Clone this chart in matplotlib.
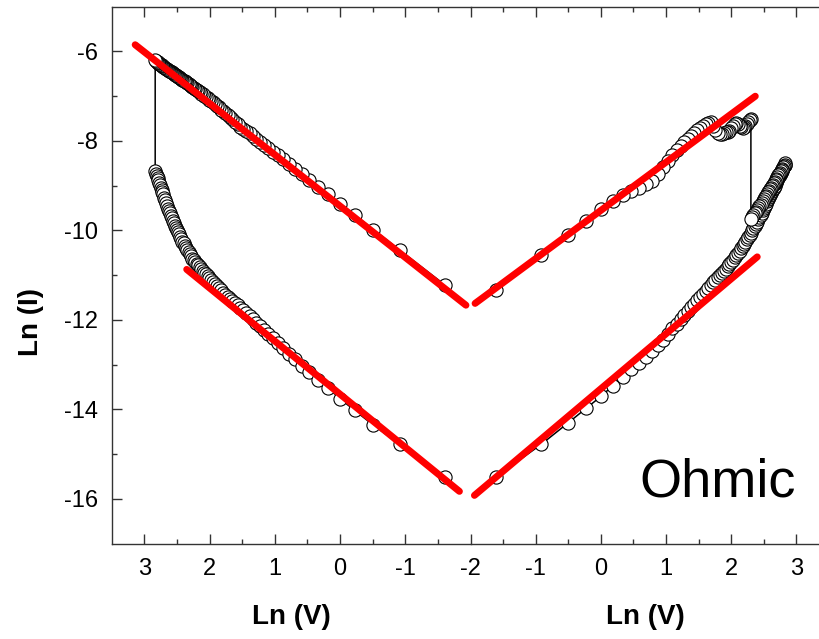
import numpy as np
import matplotlib
matplotlib.use('Agg')
import matplotlib.pyplot as plt
from matplotlib.ticker import FixedLocator

plt.rcParams['font.family'] = ['Liberation Sans', 'DejaVu Sans']
plt.rcParams['axes.unicode_minus'] = False

# sweep voltages (V), same steps on both polarities
sweep_v = [0.2, 0.4, 0.6, 0.8, 1.0, 1.2, 1.4, 1.6, 1.8, 2.0,
           2.2, 2.4, 2.6, 2.8, 3.0, 3.2, 3.4, 3.6, 3.8, 4.0,
           4.2, 4.4, 4.6, 4.8, 5.0, 5.2, 5.4, 5.6, 5.8, 6.0,
           6.2, 6.4, 6.6, 6.8, 7.0, 7.2, 7.4, 7.6, 7.8, 8.0,
           8.2, 8.4, 8.6, 8.8, 9.0, 9.2, 9.4, 9.6, 9.8, 10.0,
           10.2, 10.4, 10.6, 10.8, 11.0, 11.2, 11.4, 11.6, 11.8, 12.0,
           12.2, 12.4, 12.6, 12.8, 13.0, 13.2, 13.4, 13.6, 13.8, 14.0,
           14.2, 14.4, 14.6, 14.8, 15.0, 15.2, 15.4, 15.6, 15.8, 16.0,
           16.2, 16.4, 16.6, 16.8, 17.0]

# negative side: ln(I) of the LRS (upper) and HRS (lower) branches
neg_upper = [-11.22, -10.44, -9.98, -9.65, -9.40, -9.19, -9.02, -8.87, -8.74, -8.62,
             -8.51, -8.41, -8.32, -8.24, -8.16, -8.09, -8.02, -7.95, -7.89, -7.83,
             -7.78, -7.73, -7.68, -7.62, -7.57, -7.52, -7.47, -7.42, -7.38, -7.34,
             -7.30, -7.25, -7.22, -7.18, -7.14, -7.11, -7.08, -7.05, -7.02, -6.99,
             -6.96, -6.94, -6.91, -6.88, -6.86, -6.83, -6.81, -6.79, -6.77, -6.75,
             -6.73, -6.71, -6.69, -6.67, -6.65, -6.63, -6.61, -6.60, -6.58, -6.56,
             -6.55, -6.53, -6.52, -6.50, -6.49, -6.47, -6.46, -6.44, -6.43, -6.42,
             -6.40, -6.39, -6.37, -6.35, -6.34, -6.33, -6.31, -6.30, -6.28, -6.27,
             -6.25, -6.24, -6.23, -6.21, -6.20]
neg_lower = [-15.51, -14.78, -14.35, -14.02, -13.76, -13.52, -13.34, -13.17, -13.02, -12.88,
             -12.75, -12.63, -12.51, -12.41, -12.31, -12.22, -12.14, -12.06, -11.98, -11.91,
             -11.84, -11.78, -11.73, -11.67, -11.62, -11.57, -11.53, -11.48, -11.44, -11.40,
             -11.34, -11.29, -11.24, -11.19, -11.15, -11.10, -11.06, -11.02, -10.98, -10.94,
             -10.90, -10.86, -10.82, -10.78, -10.75, -10.71, -10.67, -10.63, -10.58, -10.53,
             -10.48, -10.43, -10.39, -10.34, -10.29, -10.25, -10.20, -10.15, -10.09, -10.04,
             -9.99, -9.94, -9.89, -9.84, -9.78, -9.73, -9.67, -9.62, -9.56, -9.51,
             -9.45, -9.39, -9.33, -9.27, -9.19, -9.14, -9.09, -9.04, -8.98, -8.93,
             -8.88, -8.83, -8.78, -8.73, -8.68]

# positive side: HRS forward sweep, HRS return (10 V .. 17 V), LRS after set (0.2 V .. 10 V)
pos_lower = [-15.51, -14.78, -14.31, -13.97, -13.71, -13.47, -13.28, -13.10, -12.96, -12.83,
             -12.70, -12.57, -12.44, -12.31, -12.19, -12.08, -11.98, -11.89, -11.80, -11.72,
             -11.64, -11.56, -11.49, -11.42, -11.35, -11.28, -11.22, -11.16, -11.10, -11.05,
             -11.00, -10.95, -10.90, -10.85, -10.80, -10.75, -10.70, -10.65, -10.60, -10.55,
             -10.50, -10.45, -10.40, -10.35, -10.30, -10.25, -10.20, -10.15, -10.10, -10.05,
             -10.00, -9.95, -9.90, -9.85, -9.80, -9.75, -9.70, -9.65, -9.60, -9.55,
             -9.50, -9.45, -9.40, -9.35, -9.30, -9.26, -9.21, -9.17, -9.12, -9.08,
             -9.04, -9.00, -8.95, -8.91, -8.87, -8.83, -8.79, -8.76, -8.72, -8.68,
             -8.64, -8.61, -8.57, -8.54, -8.50]
pos_lower_back = [-9.75, -9.71, -9.66, -9.62, -9.58, -9.54, -9.50, -9.46, -9.42, -9.38,
                  -9.34, -9.30, -9.26, -9.23, -9.19, -9.15, -9.12, -9.08, -9.05, -9.01,
                  -8.98, -8.94, -8.91, -8.87, -8.84, -8.80, -8.77, -8.74, -8.71, -8.68,
                  -8.65, -8.62, -8.59, -8.56, -8.53, -8.50]
pos_upper = [-11.33, -10.55, -10.10, -9.78, -9.53, -9.35, -9.21, -9.12, -9.04, -8.97,
             -8.90, -8.73, -8.58, -8.45, -8.32, -8.21, -8.11, -8.03, -7.95, -7.88,
             -7.82, -7.76, -7.71, -7.67, -7.63, -7.60, -7.58, -7.66, -7.76, -7.83,
             -7.85, -7.84, -7.82, -7.80, -7.79, -7.77, -7.72, -7.66, -7.62, -7.60,
             -7.62, -7.66, -7.69, -7.70, -7.69, -7.66, -7.62, -7.58, -7.54, -7.51]

# linear fits (Ohmic), start/end points in ln(V), ln(I)
fit_neg_upper_x, fit_neg_upper_y = [3.14, -1.93], [-5.85, -11.67]
fit_neg_lower_x, fit_neg_lower_y = [2.35, -1.83], [-10.87, -15.83]
fit_pos_upper_x, fit_pos_upper_y = [-1.93, 2.37], [-11.63, -7.00]
fit_pos_lower_x, fit_pos_lower_y = [-1.94, 2.40], [-15.92, -10.59]

left_ticks = [3, 2, 1, 0, -1]
right_ticks = [-2, -1, 0, 1, 2, 3]
y_ticks = [-16, -14, -12, -10, -8, -6]

lnv = np.log(sweep_v)
n_back = len(pos_lower_back)

x_left = np.concatenate([lnv, lnv[::-1]])
y_left = np.concatenate([neg_upper, neg_lower[::-1]])

x_right = np.concatenate([lnv, lnv[-n_back:-1][::-1], lnv[:len(pos_upper)][::-1]])
y_right = np.concatenate([pos_lower, pos_lower_back[:-1][::-1], pos_upper[::-1]])

fig = plt.figure(figsize=(8.2, 6.39), dpi=100)
ax_l = fig.add_axes([0.1366, 0.1491, 0.4372, 0.8404])
ax_r = fig.add_axes([0.5738, 0.1491, 0.4262, 0.8404])

mk = dict(color='black', lw=1.1, marker='o', ms=9.5, mfc='white', mec='black', mew=0.8)
ax_l.plot(x_left, y_left, **mk)
ax_r.plot(x_right, y_right, **mk)

red = dict(color='#ff0000', lw=5, solid_capstyle='round', zorder=5, clip_on=False)
ax_l.plot(fit_neg_upper_x, fit_neg_upper_y, **red)
ax_l.plot(fit_neg_lower_x, fit_neg_lower_y, **red)
ax_r.plot(fit_pos_upper_x, fit_pos_upper_y, **red)
ax_r.plot(fit_pos_lower_x, fit_pos_lower_y, **red)

ax_l.set_xlim(3.495, -2)
ax_r.set_xlim(-2, 3.363)
for ax in (ax_l, ax_r):
    ax.set_ylim(-17, -5)
    for s in ax.spines.values():
        s.set_color('#333333')
        s.set_linewidth(1.0)
    ax.tick_params(which='both', direction='in', top=True, bottom=True,
                   color='#333333', width=1, labelsize=17)
    ax.tick_params(which='major', length=7)
    ax.tick_params(which='minor', length=3.5)
    ax.tick_params(axis='x', pad=10)
    ax.tick_params(axis='y', pad=10)

ax_l.spines['right'].set_visible(False)
ax_r.spines['left'].set_visible(False)
ax_r.spines['right'].set_visible(False)

ax_l.xaxis.set_major_locator(FixedLocator(left_ticks))
ax_l.xaxis.set_minor_locator(FixedLocator([2.5, 1.5, 0.5, -0.5, -1.5]))
ax_r.xaxis.set_major_locator(FixedLocator(right_ticks))
ax_r.xaxis.set_minor_locator(FixedLocator([-1.5, -0.5, 0.5, 1.5, 2.5]))
ax_l.yaxis.set_major_locator(FixedLocator(y_ticks))
ax_l.yaxis.set_minor_locator(FixedLocator([-15, -13, -11, -9, -7]))
ax_l.tick_params(axis='y', which='both', right=False)
ax_r.set_yticks([])

for ax in (ax_l, ax_r):
    ax.set_xlabel('Ln (V)', fontsize=20, fontweight='bold')
    ax.xaxis.set_label_coords(0.5, -0.113)
ax_l.set_ylabel('Ln (I)', fontsize=20, fontweight='bold')
ax_l.yaxis.set_label_coords(-0.19, 0.413)

fig.text(639 / 820, (639 - 496.7) / 639, 'Ohmic', fontsize=39, ha='left', va='baseline')

fig.savefig('out.png', dpi=100)
